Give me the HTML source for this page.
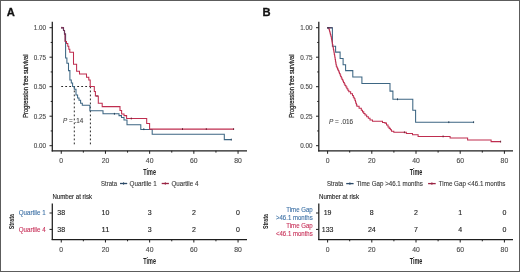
<!DOCTYPE html>
<html><head><meta charset="utf-8"><style>
html,body{margin:0;padding:0;background:#fff;}
body{width:520px;height:272px;overflow:hidden;}
svg{display:block;font-family:"Liberation Sans", sans-serif;will-change:transform;}
</style></head><body>
<svg width="520" height="272" viewBox="0 0 520 272">
<rect x="0" y="0" width="520" height="272" fill="#fff"/>
<rect x="0.5" y="0.5" width="519" height="271" fill="none" stroke="#5c5c5c" stroke-width="1"/>
<text x="6.8" y="16.3" font-size="11.2" fill="#111" stroke="#111" stroke-width="0.3" font-weight="bold">A</text>
<text x="28.2" y="86.2" font-size="7.3" fill="#222" stroke="#222" stroke-width="0.25" text-anchor="middle" textLength="63.3" lengthAdjust="spacingAndGlyphs" transform="rotate(-90 28.2 86.2)">Progression free survival</text>
<line x1="52.3" y1="21.8" x2="52.3" y2="151.4" stroke="#1e1e1e" stroke-width="1.25"/>
<line x1="49.5" y1="27.7" x2="52.3" y2="27.7" stroke="#1e1e1e" stroke-width="1"/>
<text x="46.1" y="30.2" font-size="6.6" fill="#4a4a4a" stroke="#4a4a4a" stroke-width="0.12" text-anchor="end" textLength="12.3" lengthAdjust="spacingAndGlyphs">1.00</text>
<line x1="49.5" y1="57.2" x2="52.3" y2="57.2" stroke="#1e1e1e" stroke-width="1"/>
<text x="46.1" y="59.7" font-size="6.6" fill="#4a4a4a" stroke="#4a4a4a" stroke-width="0.12" text-anchor="end" textLength="12.3" lengthAdjust="spacingAndGlyphs">0.75</text>
<line x1="49.5" y1="86.7" x2="52.3" y2="86.7" stroke="#1e1e1e" stroke-width="1"/>
<text x="46.1" y="89.2" font-size="6.6" fill="#4a4a4a" stroke="#4a4a4a" stroke-width="0.12" text-anchor="end" textLength="12.3" lengthAdjust="spacingAndGlyphs">0.50</text>
<line x1="49.5" y1="116.2" x2="52.3" y2="116.2" stroke="#1e1e1e" stroke-width="1"/>
<text x="46.1" y="118.7" font-size="6.6" fill="#4a4a4a" stroke="#4a4a4a" stroke-width="0.12" text-anchor="end" textLength="12.3" lengthAdjust="spacingAndGlyphs">0.25</text>
<line x1="49.5" y1="145.7" x2="52.3" y2="145.7" stroke="#1e1e1e" stroke-width="1"/>
<text x="46.1" y="148.2" font-size="6.6" fill="#4a4a4a" stroke="#4a4a4a" stroke-width="0.12" text-anchor="end" textLength="12.3" lengthAdjust="spacingAndGlyphs">0.00</text>
<line x1="50.7" y1="42.45" x2="52.3" y2="42.45" stroke="#1e1e1e" stroke-width="1"/>
<line x1="50.7" y1="71.95" x2="52.3" y2="71.95" stroke="#1e1e1e" stroke-width="1"/>
<line x1="50.7" y1="101.45" x2="52.3" y2="101.45" stroke="#1e1e1e" stroke-width="1"/>
<line x1="50.7" y1="130.95" x2="52.3" y2="130.95" stroke="#1e1e1e" stroke-width="1"/>
<line x1="51.7" y1="150.8" x2="247" y2="150.8" stroke="#1e1e1e" stroke-width="1.25"/>
<line x1="61.25" y1="150.8" x2="61.25" y2="153.8" stroke="#1e1e1e" stroke-width="1"/>
<text x="61.25" y="163.2" font-size="6.6" fill="#4a4a4a" stroke="#4a4a4a" stroke-width="0.12" text-anchor="middle" textLength="3.8" lengthAdjust="spacingAndGlyphs">0</text>
<line x1="83.35" y1="150.8" x2="83.35" y2="152.6" stroke="#1e1e1e" stroke-width="1"/>
<line x1="105.45" y1="150.8" x2="105.45" y2="153.8" stroke="#1e1e1e" stroke-width="1"/>
<text x="105.45" y="163.2" font-size="6.6" fill="#4a4a4a" stroke="#4a4a4a" stroke-width="0.12" text-anchor="middle" textLength="7.6" lengthAdjust="spacingAndGlyphs">20</text>
<line x1="127.55" y1="150.8" x2="127.55" y2="152.6" stroke="#1e1e1e" stroke-width="1"/>
<line x1="149.65" y1="150.8" x2="149.65" y2="153.8" stroke="#1e1e1e" stroke-width="1"/>
<text x="149.65" y="163.2" font-size="6.6" fill="#4a4a4a" stroke="#4a4a4a" stroke-width="0.12" text-anchor="middle" textLength="7.6" lengthAdjust="spacingAndGlyphs">40</text>
<line x1="171.75" y1="150.8" x2="171.75" y2="152.6" stroke="#1e1e1e" stroke-width="1"/>
<line x1="193.85" y1="150.8" x2="193.85" y2="153.8" stroke="#1e1e1e" stroke-width="1"/>
<text x="193.85" y="163.2" font-size="6.6" fill="#4a4a4a" stroke="#4a4a4a" stroke-width="0.12" text-anchor="middle" textLength="7.6" lengthAdjust="spacingAndGlyphs">60</text>
<line x1="215.95" y1="150.8" x2="215.95" y2="152.6" stroke="#1e1e1e" stroke-width="1"/>
<line x1="238.05" y1="150.8" x2="238.05" y2="153.8" stroke="#1e1e1e" stroke-width="1"/>
<text x="238.05" y="163.2" font-size="6.6" fill="#4a4a4a" stroke="#4a4a4a" stroke-width="0.12" text-anchor="middle" textLength="7.6" lengthAdjust="spacingAndGlyphs">80</text>
<text x="149.65" y="174.5" font-size="8.9" fill="#222" text-anchor="middle" font-weight="bold" textLength="12.6" lengthAdjust="spacingAndGlyphs">Time</text>
<line x1="52.3" y1="203.5" x2="52.3" y2="240.1" stroke="#1e1e1e" stroke-width="1.25"/>
<line x1="51.7" y1="239.5" x2="247" y2="239.5" stroke="#1e1e1e" stroke-width="1.25"/>
<line x1="49.5" y1="213" x2="52.3" y2="213" stroke="#1e1e1e" stroke-width="1"/>
<line x1="49.5" y1="229.4" x2="52.3" y2="229.4" stroke="#1e1e1e" stroke-width="1"/>
<line x1="61.25" y1="239.5" x2="61.25" y2="242.5" stroke="#1e1e1e" stroke-width="1"/>
<text x="61.25" y="251.7" font-size="6.6" fill="#4a4a4a" stroke="#4a4a4a" stroke-width="0.12" text-anchor="middle" textLength="3.8" lengthAdjust="spacingAndGlyphs">0</text>
<line x1="83.35" y1="239.5" x2="83.35" y2="241.3" stroke="#1e1e1e" stroke-width="1"/>
<line x1="105.45" y1="239.5" x2="105.45" y2="242.5" stroke="#1e1e1e" stroke-width="1"/>
<text x="105.45" y="251.7" font-size="6.6" fill="#4a4a4a" stroke="#4a4a4a" stroke-width="0.12" text-anchor="middle" textLength="7.6" lengthAdjust="spacingAndGlyphs">20</text>
<line x1="127.55" y1="239.5" x2="127.55" y2="241.3" stroke="#1e1e1e" stroke-width="1"/>
<line x1="149.65" y1="239.5" x2="149.65" y2="242.5" stroke="#1e1e1e" stroke-width="1"/>
<text x="149.65" y="251.7" font-size="6.6" fill="#4a4a4a" stroke="#4a4a4a" stroke-width="0.12" text-anchor="middle" textLength="7.6" lengthAdjust="spacingAndGlyphs">40</text>
<line x1="171.75" y1="239.5" x2="171.75" y2="241.3" stroke="#1e1e1e" stroke-width="1"/>
<line x1="193.85" y1="239.5" x2="193.85" y2="242.5" stroke="#1e1e1e" stroke-width="1"/>
<text x="193.85" y="251.7" font-size="6.6" fill="#4a4a4a" stroke="#4a4a4a" stroke-width="0.12" text-anchor="middle" textLength="7.6" lengthAdjust="spacingAndGlyphs">60</text>
<line x1="215.95" y1="239.5" x2="215.95" y2="241.3" stroke="#1e1e1e" stroke-width="1"/>
<line x1="238.05" y1="239.5" x2="238.05" y2="242.5" stroke="#1e1e1e" stroke-width="1"/>
<text x="238.05" y="251.7" font-size="6.6" fill="#4a4a4a" stroke="#4a4a4a" stroke-width="0.12" text-anchor="middle" textLength="7.6" lengthAdjust="spacingAndGlyphs">80</text>
<text x="149.65" y="263.5" font-size="8.9" fill="#222" text-anchor="middle" font-weight="bold" textLength="12.6" lengthAdjust="spacingAndGlyphs">Time</text>
<path d="M61.25,86.5H90.4" fill="none" stroke="#111" stroke-width="0.9" stroke-dasharray="1.8 2.2"/>
<path d="M74.3,86.5V145.7" fill="none" stroke="#111" stroke-width="0.9" stroke-dasharray="1.8 2.2"/>
<path d="M90.4,86.5V145.7" fill="none" stroke="#111" stroke-width="0.9" stroke-dasharray="1.8 2.2"/>
<path d="M61.25,27.7H63.5V30.5H64.5V34H65.6V58H66.9V63.3H68.5V70.6H69.9V80H71.3V83H72.6V86.5H74.3V89.3H76V95H77.6V98H79V100.3H80.6V103.3H82.3V105.2H89.9V110.8H103V113.8H119V115.6H121.5V117.5H124V120H127V124.8H140.8V129.4H152.2V134.3H224.3V139.6H231.3" fill="none" stroke="#3d6683" stroke-width="1.05"/>
<path d="M61.25,27.7H63.5V30.5H64.5V34H65.2V41.5H66.5V43.5H67.8V46.3H68.8V49.3H69.8V52.2H73.5V64.3H76.6V71.3H79.5V74H86.5V77.2H88.8V80H90.2V86.5H94.3V91.5H95.4V96H98.3V103.2H102.2V106.6H120V110.5H121.6V114H124V115.6H126.6V118.5H146.7V123.4H149.6V129.1H233.6" fill="none" stroke="#bf2d4f" stroke-width="1.05"/>
<path d="M61.25,27.7H63.5V30.5H64.5V34H65.2V41.5" fill="none" stroke="#6b3358" stroke-width="1.15"/>
<line x1="97" y1="95.1" x2="97" y2="96.9" stroke="#6e1f33" stroke-width="1.0"/>
<line x1="131.3" y1="117.6" x2="131.3" y2="119.4" stroke="#6e1f33" stroke-width="1.0"/>
<line x1="182.5" y1="128.2" x2="182.5" y2="130" stroke="#6e1f33" stroke-width="1.0"/>
<line x1="206.3" y1="128.2" x2="206.3" y2="130" stroke="#6e1f33" stroke-width="1.0"/>
<line x1="233.6" y1="128.2" x2="233.6" y2="130" stroke="#6e1f33" stroke-width="1.0"/>
<line x1="114.4" y1="112.9" x2="114.4" y2="114.7" stroke="#243f57" stroke-width="1.0"/>
<line x1="143.8" y1="128.3" x2="143.8" y2="130.1" stroke="#243f57" stroke-width="1.0"/>
<line x1="231.3" y1="138.7" x2="231.3" y2="140.5" stroke="#243f57" stroke-width="1.0"/>
<line x1="61.8" y1="26.8" x2="61.8" y2="28.6" stroke="#7a3a5a" stroke-width="1.0"/>
<text x="63" y="123.2" font-size="6.4" fill="#4a4a4a" stroke="#4a4a4a" stroke-width="0.12" textLength="20.2" lengthAdjust="spacingAndGlyphs"><tspan font-style="italic">P</tspan> = .14</text>
<text x="101" y="185.5" font-size="6.6" fill="#3a3a3a" stroke="#3a3a3a" stroke-width="0.12" textLength="16" lengthAdjust="spacingAndGlyphs">Strata</text>
<line x1="120" y1="183.5" x2="127.2" y2="183.5" stroke="#2c4a68" stroke-width="1.3"/>
<line x1="123.6" y1="182.3" x2="123.6" y2="184.7" stroke="#2c4a68" stroke-width="1"/>
<text x="129.6" y="185.5" font-size="6.6" fill="#3a3a3a" stroke="#3a3a3a" stroke-width="0.12" textLength="27.2" lengthAdjust="spacingAndGlyphs">Quartile 1</text>
<line x1="161.7" y1="183.5" x2="168.9" y2="183.5" stroke="#9a2443" stroke-width="1.3"/>
<line x1="165.3" y1="182.3" x2="165.3" y2="184.7" stroke="#9a2443" stroke-width="1"/>
<text x="171.4" y="185.5" font-size="6.6" fill="#3a3a3a" stroke="#3a3a3a" stroke-width="0.12" textLength="27" lengthAdjust="spacingAndGlyphs">Quartile 4</text>
<text x="52.4" y="199.2" font-size="6.6" fill="#222" stroke="#222" stroke-width="0.12" textLength="39.6" lengthAdjust="spacingAndGlyphs">Number at risk</text>
<text x="45.6" y="215.1" font-size="6.6" fill="#3f72a6" stroke="#3f72a6" stroke-width="0.12" text-anchor="end" textLength="26.9" lengthAdjust="spacingAndGlyphs">Quartile 1</text>
<text x="45.6" y="231.7" font-size="6.6" fill="#c8325a" stroke="#c8325a" stroke-width="0.12" text-anchor="end" textLength="26.9" lengthAdjust="spacingAndGlyphs">Quartile 4</text>
<text x="14.4" y="221.6" font-size="7.9" fill="#222" text-anchor="middle" font-weight="bold" textLength="15.2" lengthAdjust="spacingAndGlyphs" transform="rotate(-90 14.4 221.6)">Strata</text>
<text x="61.25" y="215.1" font-size="6.6" fill="#222" stroke="#222" stroke-width="0.12" text-anchor="middle" textLength="7.8" lengthAdjust="spacingAndGlyphs">38</text>
<text x="61.25" y="231.6" font-size="6.6" fill="#222" stroke="#222" stroke-width="0.12" text-anchor="middle" textLength="7.8" lengthAdjust="spacingAndGlyphs">38</text>
<text x="105.45" y="215.1" font-size="6.6" fill="#222" stroke="#222" stroke-width="0.12" text-anchor="middle" textLength="7.8" lengthAdjust="spacingAndGlyphs">10</text>
<text x="105.45" y="231.6" font-size="6.6" fill="#222" stroke="#222" stroke-width="0.12" text-anchor="middle" textLength="7.8" lengthAdjust="spacingAndGlyphs">11</text>
<text x="149.65" y="215.1" font-size="6.6" fill="#222" stroke="#222" stroke-width="0.12" text-anchor="middle" textLength="3.9" lengthAdjust="spacingAndGlyphs">3</text>
<text x="149.65" y="231.6" font-size="6.6" fill="#222" stroke="#222" stroke-width="0.12" text-anchor="middle" textLength="3.9" lengthAdjust="spacingAndGlyphs">3</text>
<text x="193.85" y="215.1" font-size="6.6" fill="#222" stroke="#222" stroke-width="0.12" text-anchor="middle" textLength="3.9" lengthAdjust="spacingAndGlyphs">2</text>
<text x="193.85" y="231.6" font-size="6.6" fill="#222" stroke="#222" stroke-width="0.12" text-anchor="middle" textLength="3.9" lengthAdjust="spacingAndGlyphs">2</text>
<text x="238.05" y="215.1" font-size="6.6" fill="#222" stroke="#222" stroke-width="0.12" text-anchor="middle" textLength="3.9" lengthAdjust="spacingAndGlyphs">0</text>
<text x="238.05" y="231.6" font-size="6.6" fill="#222" stroke="#222" stroke-width="0.12" text-anchor="middle" textLength="3.9" lengthAdjust="spacingAndGlyphs">0</text>
<text x="262.6" y="16.3" font-size="11.2" fill="#111" stroke="#111" stroke-width="0.3" font-weight="bold">B</text>
<text x="294.5" y="86.2" font-size="7.3" fill="#222" stroke="#222" stroke-width="0.25" text-anchor="middle" textLength="63.3" lengthAdjust="spacingAndGlyphs" transform="rotate(-90 294.5 86.2)">Progression free survival</text>
<line x1="318.8" y1="21.8" x2="318.8" y2="151.4" stroke="#1e1e1e" stroke-width="1.25"/>
<line x1="316" y1="27.7" x2="318.8" y2="27.7" stroke="#1e1e1e" stroke-width="1"/>
<text x="312.6" y="30.2" font-size="6.6" fill="#4a4a4a" stroke="#4a4a4a" stroke-width="0.12" text-anchor="end" textLength="12.3" lengthAdjust="spacingAndGlyphs">1.00</text>
<line x1="316" y1="57.2" x2="318.8" y2="57.2" stroke="#1e1e1e" stroke-width="1"/>
<text x="312.6" y="59.7" font-size="6.6" fill="#4a4a4a" stroke="#4a4a4a" stroke-width="0.12" text-anchor="end" textLength="12.3" lengthAdjust="spacingAndGlyphs">0.75</text>
<line x1="316" y1="86.7" x2="318.8" y2="86.7" stroke="#1e1e1e" stroke-width="1"/>
<text x="312.6" y="89.2" font-size="6.6" fill="#4a4a4a" stroke="#4a4a4a" stroke-width="0.12" text-anchor="end" textLength="12.3" lengthAdjust="spacingAndGlyphs">0.50</text>
<line x1="316" y1="116.2" x2="318.8" y2="116.2" stroke="#1e1e1e" stroke-width="1"/>
<text x="312.6" y="118.7" font-size="6.6" fill="#4a4a4a" stroke="#4a4a4a" stroke-width="0.12" text-anchor="end" textLength="12.3" lengthAdjust="spacingAndGlyphs">0.25</text>
<line x1="316" y1="145.7" x2="318.8" y2="145.7" stroke="#1e1e1e" stroke-width="1"/>
<text x="312.6" y="148.2" font-size="6.6" fill="#4a4a4a" stroke="#4a4a4a" stroke-width="0.12" text-anchor="end" textLength="12.3" lengthAdjust="spacingAndGlyphs">0.00</text>
<line x1="317.2" y1="42.45" x2="318.8" y2="42.45" stroke="#1e1e1e" stroke-width="1"/>
<line x1="317.2" y1="71.95" x2="318.8" y2="71.95" stroke="#1e1e1e" stroke-width="1"/>
<line x1="317.2" y1="101.45" x2="318.8" y2="101.45" stroke="#1e1e1e" stroke-width="1"/>
<line x1="317.2" y1="130.95" x2="318.8" y2="130.95" stroke="#1e1e1e" stroke-width="1"/>
<line x1="318.2" y1="150.8" x2="513" y2="150.8" stroke="#1e1e1e" stroke-width="1.25"/>
<line x1="327.6" y1="150.8" x2="327.6" y2="153.8" stroke="#1e1e1e" stroke-width="1"/>
<text x="327.6" y="163.2" font-size="6.6" fill="#4a4a4a" stroke="#4a4a4a" stroke-width="0.12" text-anchor="middle" textLength="3.8" lengthAdjust="spacingAndGlyphs">0</text>
<line x1="349.7" y1="150.8" x2="349.7" y2="152.6" stroke="#1e1e1e" stroke-width="1"/>
<line x1="371.8" y1="150.8" x2="371.8" y2="153.8" stroke="#1e1e1e" stroke-width="1"/>
<text x="371.8" y="163.2" font-size="6.6" fill="#4a4a4a" stroke="#4a4a4a" stroke-width="0.12" text-anchor="middle" textLength="7.6" lengthAdjust="spacingAndGlyphs">20</text>
<line x1="393.9" y1="150.8" x2="393.9" y2="152.6" stroke="#1e1e1e" stroke-width="1"/>
<line x1="416" y1="150.8" x2="416" y2="153.8" stroke="#1e1e1e" stroke-width="1"/>
<text x="416" y="163.2" font-size="6.6" fill="#4a4a4a" stroke="#4a4a4a" stroke-width="0.12" text-anchor="middle" textLength="7.6" lengthAdjust="spacingAndGlyphs">40</text>
<line x1="438.1" y1="150.8" x2="438.1" y2="152.6" stroke="#1e1e1e" stroke-width="1"/>
<line x1="460.2" y1="150.8" x2="460.2" y2="153.8" stroke="#1e1e1e" stroke-width="1"/>
<text x="460.2" y="163.2" font-size="6.6" fill="#4a4a4a" stroke="#4a4a4a" stroke-width="0.12" text-anchor="middle" textLength="7.6" lengthAdjust="spacingAndGlyphs">60</text>
<line x1="482.3" y1="150.8" x2="482.3" y2="152.6" stroke="#1e1e1e" stroke-width="1"/>
<line x1="504.4" y1="150.8" x2="504.4" y2="153.8" stroke="#1e1e1e" stroke-width="1"/>
<text x="504.4" y="163.2" font-size="6.6" fill="#4a4a4a" stroke="#4a4a4a" stroke-width="0.12" text-anchor="middle" textLength="7.6" lengthAdjust="spacingAndGlyphs">80</text>
<text x="416" y="174.5" font-size="8.9" fill="#222" text-anchor="middle" font-weight="bold" textLength="12.6" lengthAdjust="spacingAndGlyphs">Time</text>
<line x1="318.8" y1="203.5" x2="318.8" y2="240.1" stroke="#1e1e1e" stroke-width="1.25"/>
<line x1="318.2" y1="239.5" x2="513" y2="239.5" stroke="#1e1e1e" stroke-width="1.25"/>
<line x1="316" y1="213" x2="318.8" y2="213" stroke="#1e1e1e" stroke-width="1"/>
<line x1="316" y1="229.4" x2="318.8" y2="229.4" stroke="#1e1e1e" stroke-width="1"/>
<line x1="327.6" y1="239.5" x2="327.6" y2="242.5" stroke="#1e1e1e" stroke-width="1"/>
<text x="327.6" y="251.7" font-size="6.6" fill="#4a4a4a" stroke="#4a4a4a" stroke-width="0.12" text-anchor="middle" textLength="3.8" lengthAdjust="spacingAndGlyphs">0</text>
<line x1="349.7" y1="239.5" x2="349.7" y2="241.3" stroke="#1e1e1e" stroke-width="1"/>
<line x1="371.8" y1="239.5" x2="371.8" y2="242.5" stroke="#1e1e1e" stroke-width="1"/>
<text x="371.8" y="251.7" font-size="6.6" fill="#4a4a4a" stroke="#4a4a4a" stroke-width="0.12" text-anchor="middle" textLength="7.6" lengthAdjust="spacingAndGlyphs">20</text>
<line x1="393.9" y1="239.5" x2="393.9" y2="241.3" stroke="#1e1e1e" stroke-width="1"/>
<line x1="416" y1="239.5" x2="416" y2="242.5" stroke="#1e1e1e" stroke-width="1"/>
<text x="416" y="251.7" font-size="6.6" fill="#4a4a4a" stroke="#4a4a4a" stroke-width="0.12" text-anchor="middle" textLength="7.6" lengthAdjust="spacingAndGlyphs">40</text>
<line x1="438.1" y1="239.5" x2="438.1" y2="241.3" stroke="#1e1e1e" stroke-width="1"/>
<line x1="460.2" y1="239.5" x2="460.2" y2="242.5" stroke="#1e1e1e" stroke-width="1"/>
<text x="460.2" y="251.7" font-size="6.6" fill="#4a4a4a" stroke="#4a4a4a" stroke-width="0.12" text-anchor="middle" textLength="7.6" lengthAdjust="spacingAndGlyphs">60</text>
<line x1="482.3" y1="239.5" x2="482.3" y2="241.3" stroke="#1e1e1e" stroke-width="1"/>
<line x1="504.4" y1="239.5" x2="504.4" y2="242.5" stroke="#1e1e1e" stroke-width="1"/>
<text x="504.4" y="251.7" font-size="6.6" fill="#4a4a4a" stroke="#4a4a4a" stroke-width="0.12" text-anchor="middle" textLength="7.6" lengthAdjust="spacingAndGlyphs">80</text>
<text x="416" y="263.5" font-size="8.9" fill="#222" text-anchor="middle" font-weight="bold" textLength="12.6" lengthAdjust="spacingAndGlyphs">Time</text>
<path d="M327.5,27.7H332.4V46.3H335.6V52.1H340.1V58.5H343.1V64.8H345.6V70.6H352.8V76.9H361.9V83.4H390V91.1H392.9V99.3H412.8V110.3H415.6V122.2H473.6" fill="none" stroke="#3d6683" stroke-width="1.05"/>
<path d="M327.5,27.7H328.60V28.00H329.05V29.67H329.50V31.33H329.95V33.00H330.40V34.67H330.85V36.33H331.30V38.00H331.60V39.64H331.90V41.27H332.20V42.91H332.50V44.55H332.80V46.18H333.10V47.82H333.40V49.45H333.70V51.09H334.00V52.73H334.30V54.36H334.60V56.00H334.88V57.72H335.17V59.43H335.45V61.15H335.73V62.87H336.02V64.58H336.30V66.30H336.93V67.70H337.55V69.10H338.18V70.50H338.80V71.90H339.43V73.43H340.05V74.95H340.68V76.47H341.30V78.00H342.04V79.50H342.78V81.00H343.52V82.50H344.26V84.00H345.00V85.50H345.95V87.08H346.90V88.65H347.85V90.22H348.80V91.80H350.65V93.65H352.50V95.50H353.33V97.17H354.17V98.83H355.00V100.50H355.48V101.95H355.95V103.40H356.42V104.85H356.90V106.30H359.10V108.30H361.30V110.30H362.53V111.87H363.77V113.43H365.00V115.00H366.67V116.67H368.33V118.33H370.00V120.00H372.50V121.30H382.50V122.50H385.00V123.10H386.50V125.00H388.00V126.90H389.17V128.37H390.33V129.83H391.50V131.30H393.80V132.30H406.3V133.5H412.5V134.8H418.1V136.4H450.1V138H467.6V139.9H491.1V141.6H500.6" fill="none" stroke="#bf2d4f" stroke-width="1.05"/>
<path d="M327.3,27.8H332.4" fill="none" stroke="#4a3a5c" stroke-width="1.2"/>
<line x1="327.9" y1="27" x2="327.9" y2="28.8" stroke="#3a2a45" stroke-width="1.0"/>
<line x1="397.5" y1="98.4" x2="397.5" y2="100.2" stroke="#243f57" stroke-width="1.0"/>
<line x1="448.8" y1="121.3" x2="448.8" y2="123.1" stroke="#243f57" stroke-width="1.0"/>
<line x1="473.6" y1="121.3" x2="473.6" y2="123.1" stroke="#243f57" stroke-width="1.0"/>
<line x1="404.4" y1="131.4" x2="404.4" y2="133.2" stroke="#6e1f33" stroke-width="1.0"/>
<line x1="443.1" y1="135.5" x2="443.1" y2="137.3" stroke="#6e1f33" stroke-width="1.0"/>
<line x1="500.6" y1="140.7" x2="500.6" y2="142.5" stroke="#6e1f33" stroke-width="1.0"/>
<text x="329" y="123.9" font-size="6.4" fill="#4a4a4a" stroke="#4a4a4a" stroke-width="0.12" textLength="24.1" lengthAdjust="spacingAndGlyphs"><tspan font-style="italic">P</tspan> = .016</text>
<text x="327" y="185.5" font-size="6.6" fill="#3a3a3a" stroke="#3a3a3a" stroke-width="0.12" textLength="16.2" lengthAdjust="spacingAndGlyphs">Strata</text>
<line x1="346.2" y1="183.6" x2="353.6" y2="183.6" stroke="#2c4a68" stroke-width="1.3"/>
<line x1="349.9" y1="182.4" x2="349.9" y2="184.8" stroke="#2c4a68" stroke-width="1"/>
<text x="356.5" y="185.5" font-size="6.6" fill="#3a3a3a" stroke="#3a3a3a" stroke-width="0.12" textLength="66.3" lengthAdjust="spacingAndGlyphs">Time Gap &gt;46.1 months</text>
<line x1="428.1" y1="183.6" x2="435.7" y2="183.6" stroke="#9a2443" stroke-width="1.3"/>
<line x1="431.9" y1="182.4" x2="431.9" y2="184.8" stroke="#9a2443" stroke-width="1"/>
<text x="438.8" y="185.5" font-size="6.6" fill="#3a3a3a" stroke="#3a3a3a" stroke-width="0.12" textLength="66.7" lengthAdjust="spacingAndGlyphs">Time Gap &lt;46.1 months</text>
<text x="319" y="199.4" font-size="6.6" fill="#222" stroke="#222" stroke-width="0.12" textLength="40" lengthAdjust="spacingAndGlyphs">Number at risk</text>
<text x="312.7" y="211.8" font-size="6.6" fill="#3f72a6" stroke="#3f72a6" stroke-width="0.12" text-anchor="end" textLength="26.4" lengthAdjust="spacingAndGlyphs">Time Gap</text>
<text x="312.7" y="219.5" font-size="6.6" fill="#3f72a6" stroke="#3f72a6" stroke-width="0.12" text-anchor="end" textLength="36.7" lengthAdjust="spacingAndGlyphs">&gt;46.1 months</text>
<text x="312.7" y="228.3" font-size="6.6" fill="#c8325a" stroke="#c8325a" stroke-width="0.12" text-anchor="end" textLength="26.4" lengthAdjust="spacingAndGlyphs">Time Gap</text>
<text x="312.7" y="236.1" font-size="6.6" fill="#c8325a" stroke="#c8325a" stroke-width="0.12" text-anchor="end" textLength="36.7" lengthAdjust="spacingAndGlyphs">&lt;46.1 months</text>
<text x="268.3" y="221.5" font-size="7.9" fill="#222" text-anchor="middle" font-weight="bold" textLength="15.2" lengthAdjust="spacingAndGlyphs" transform="rotate(-90 268.3 221.5)">Strata</text>
<text x="327.6" y="215.3" font-size="6.6" fill="#222" stroke="#222" stroke-width="0.12" text-anchor="middle" textLength="7.8" lengthAdjust="spacingAndGlyphs">19</text>
<text x="327.6" y="232.3" font-size="6.6" fill="#222" stroke="#222" stroke-width="0.12" text-anchor="middle" textLength="11.7" lengthAdjust="spacingAndGlyphs">133</text>
<text x="371.8" y="215.3" font-size="6.6" fill="#222" stroke="#222" stroke-width="0.12" text-anchor="middle" textLength="3.9" lengthAdjust="spacingAndGlyphs">8</text>
<text x="371.8" y="232.3" font-size="6.6" fill="#222" stroke="#222" stroke-width="0.12" text-anchor="middle" textLength="7.8" lengthAdjust="spacingAndGlyphs">24</text>
<text x="416" y="215.3" font-size="6.6" fill="#222" stroke="#222" stroke-width="0.12" text-anchor="middle" textLength="3.9" lengthAdjust="spacingAndGlyphs">2</text>
<text x="416" y="232.3" font-size="6.6" fill="#222" stroke="#222" stroke-width="0.12" text-anchor="middle" textLength="3.9" lengthAdjust="spacingAndGlyphs">7</text>
<text x="460.2" y="215.3" font-size="6.6" fill="#222" stroke="#222" stroke-width="0.12" text-anchor="middle" textLength="3.9" lengthAdjust="spacingAndGlyphs">1</text>
<text x="460.2" y="232.3" font-size="6.6" fill="#222" stroke="#222" stroke-width="0.12" text-anchor="middle" textLength="3.9" lengthAdjust="spacingAndGlyphs">4</text>
<text x="504.4" y="215.3" font-size="6.6" fill="#222" stroke="#222" stroke-width="0.12" text-anchor="middle" textLength="3.9" lengthAdjust="spacingAndGlyphs">0</text>
<text x="504.4" y="232.3" font-size="6.6" fill="#222" stroke="#222" stroke-width="0.12" text-anchor="middle" textLength="3.9" lengthAdjust="spacingAndGlyphs">0</text>
</svg>
</body></html>
